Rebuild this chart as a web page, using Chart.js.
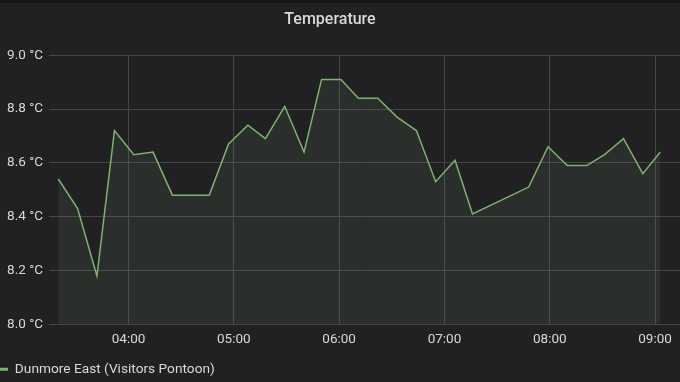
<!DOCTYPE html>
<html>
<head>
<meta charset="utf-8">
<script src="https://cdn.jsdelivr.net/npm/chart.js@4"></script>
<style>
  html, body { margin: 0; padding: 0; background: #212124; }
  #wrap { width: 680px; height: 379px; border-top: 3px solid #161618; }
</style>
</head>
<body>
<div id="wrap"><canvas id="myChart" width="680" height="379"></canvas></div>
<script>
// readings, local time
const times = ["03:20", "03:31", "03:42", "03:52", "04:03", "04:14", "04:25", "04:46", "04:57",
  "05:08", "05:18", "05:29", "05:40", "05:50", "06:01", "06:11", "06:22", "06:33", "06:44",
  "06:55", "07:06", "07:16", "07:48", "07:59", "08:10", "08:21", "08:31", "08:42", "08:53", "09:03"];
const temps = [8.54, 8.43, 8.18, 8.72, 8.63, 8.64, 8.48, 8.48, 8.67,
  8.74, 8.69, 8.81, 8.64, 8.91, 8.91, 8.84, 8.84, 8.77, 8.72,
  8.53, 8.61, 8.41, 8.51, 8.66, 8.59, 8.59, 8.63, 8.69, 8.56, 8.64];
const xTickTimes = ["04:00", "05:00", "06:00", "07:00", "08:00", "09:00"];
const yTicks = [8.0, 8.2, 8.4, 8.6, 8.8, 9.0];
const seriesName = "Dunmore East (Visitors Pontoon)";

const lineColor = "#7eb26d";
const textColor = "#d8d9da";
const gridColor = "#464649";

function toMin(s) {
  const [h, m] = s.split(":").map(Number);
  return h * 60 + m;
}
function fmt(v) {
  const h = Math.floor(v / 60), m = Math.round(v % 60);
  return String(h).padStart(2, "0") + ":" + String(m).padStart(2, "0");
}

const ctx = document.getElementById("myChart");

new Chart(ctx, {
  type: "line",
  data: {
    datasets: [
      {
        label: seriesName,
        data: times.map((t, i) => ({ x: toMin(t), y: temps[i] })),
        borderColor: lineColor,
        backgroundColor: "rgba(126,178,109,0.1)",
        borderWidth: 1.5,
        fill: "start",
        pointRadius: 0,
        tension: 0,
      },
    ],
  },
  options: {
    responsive: false,
    animation: false,
    devicePixelRatio: 1,
    layout: { padding: { left: 0, right: 0, top: 0, bottom: -4 } },
    scales: {
      x: {
        type: "linear",
        min: 194.7,
        max: 554.2,
        afterBuildTicks: (s) => { s.ticks = xTickTimes.map((t) => ({ value: toMin(t) })); },
        afterFit: (s) => { s.height = 38; },
        ticks: {
          callback: (v) => fmt(v),
          color: textColor,
          font: { family: "Roboto", size: 13.5 },
          padding: 7,
          maxRotation: 0,
        },
        grid: { color: gridColor, drawTicks: false },
        border: { display: false },
      },
      y: {
        min: 8,
        max: 9,
        afterBuildTicks: (s) => { s.ticks = yTicks.map((v) => ({ value: v })); },
        afterFit: (s) => { s.width = 49; },
        ticks: {
          callback: (v) => v.toFixed(1) + " °C",
          color: textColor,
          font: { family: "Roboto", size: 13.5 },
          padding: 6,
        },
        grid: { color: gridColor, drawTicks: false },
        border: { display: false },
      },
    },
    plugins: {
      title: {
        display: true,
        text: "Temperature",
        color: textColor,
        font: { family: "Roboto", size: 16, weight: "500" },
        padding: { top: 7.5, bottom: 25.5 },
      },
      legend: {
        position: "bottom",
        align: "start",
        labels: {
          color: textColor,
          font: { family: "Roboto", size: 13.7 },
          padding: 0,
          boxWidth: 8,
          boxHeight: 3,
          generateLabels: (chart) => chart.data.datasets.map((d, i) => ({
            text: d.label,
            fillStyle: d.borderColor,
            strokeStyle: d.borderColor,
            lineWidth: 0,
            fontColor: textColor,
            datasetIndex: i,
          })),
        },
      },
      tooltip: { enabled: false },
    },
  },
  plugins: [
    {
      id: "titleShift",
      afterLayout: (chart) => { if (chart.titleBlock) chart.titleBlock.right -= 20; },
    },
  ],
});
</script>
</body>
</html>
